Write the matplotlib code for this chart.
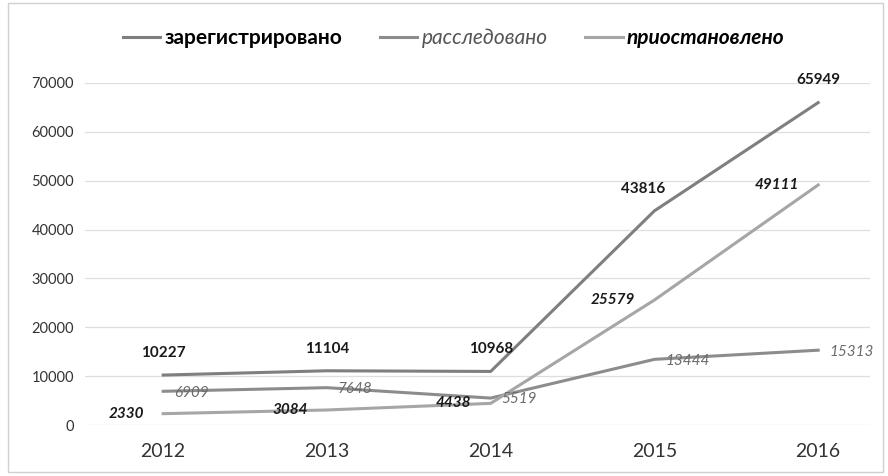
import matplotlib
matplotlib.use("Agg")
import matplotlib.pyplot as plt
from matplotlib.patches import Rectangle

plt.rcParams['font.family'] = ['Lato', 'Noto Sans', 'DejaVu Sans']

years = ["2012", "2013", "2014", "2015", "2016"]
registered = [10227, 11104, 10968, 43816, 65949]
investigated = [6909, 7648, 5519, 13444, 15313]
suspended = [2330, 3084, 4438, 25579, 49111]
y_ticks = [0, 10000, 20000, 30000, 40000, 50000, 60000, 70000]

fig = plt.figure(figsize=(8.88, 4.76), dpi=100)
ax = fig.add_axes([0.096, 0.107, 0.884, 0.719])

x = range(len(years))
l1, = ax.plot(x, registered, color="#7f7f7f", lw=2.2, label="зарегистрировано", zorder=3)
l2, = ax.plot(x, investigated, color="#8c8c8c", lw=2.2, label="расследовано", zorder=3)
l3, = ax.plot(x, suspended, color="#a6a6a6", lw=2.2, label="приостановлено", zorder=3)

# data labels
for i, v in enumerate(registered):
    dx = -8 if i == 3 else 0
    ax.annotate(str(v), (i, v), xytext=(dx, 11), textcoords="offset points",
                ha="center", va="bottom", fontsize=11, fontweight="bold", color="#1a1a1a")
for i, v in enumerate(investigated):
    ax.annotate(str(v), (i, v), xytext=(8, -1), textcoords="offset points",
                ha="left", va="center", fontsize=11, style="italic", color="#6b6b6b")
for i, v in enumerate(suspended):
    ax.annotate(str(v), (i, v), xytext=(-14, 0), textcoords="offset points",
                ha="right", va="center", fontsize=11, fontweight="bold",
                style="italic", color="#1a1a1a")

ax.set_xlim(-0.476, 4.318)
ax.set_ylim(0, 70000)
ax.set_xticks(list(x))
ax.set_xticklabels(years, fontsize=14, color="#333333")
ax.set_yticks(y_ticks)
ax.set_yticklabels([str(t) for t in y_ticks], fontsize=10.5, color="#333333")
ax.tick_params(length=0, pad=8)
ax.tick_params(axis="x", pad=13)
ax.grid(axis="y", color="#dedede", lw=0.9)
ax.set_axisbelow(True)
for s in ax.spines.values():
    s.set_visible(False)

leg = fig.legend(handles=[l1, l2, l3], loc="center", bbox_to_anchor=(0.511, 0.92),
                 ncol=3, frameon=False, fontsize=15, handlelength=1.8,
                 handletextpad=0.2, columnspacing=1.8)
texts = leg.get_texts()
texts[0].set_fontweight("bold")
texts[1].set_style("italic")
texts[1].set_color("#555555")
texts[2].set_fontweight("bold")
texts[2].set_style("italic")

fig.patches.append(Rectangle((0.009, 0.008), 0.985, 0.985, transform=fig.transFigure,
                             fill=False, edgecolor="#d0d0d0", lw=1.0))

fig.savefig("out.png", dpi=100)
